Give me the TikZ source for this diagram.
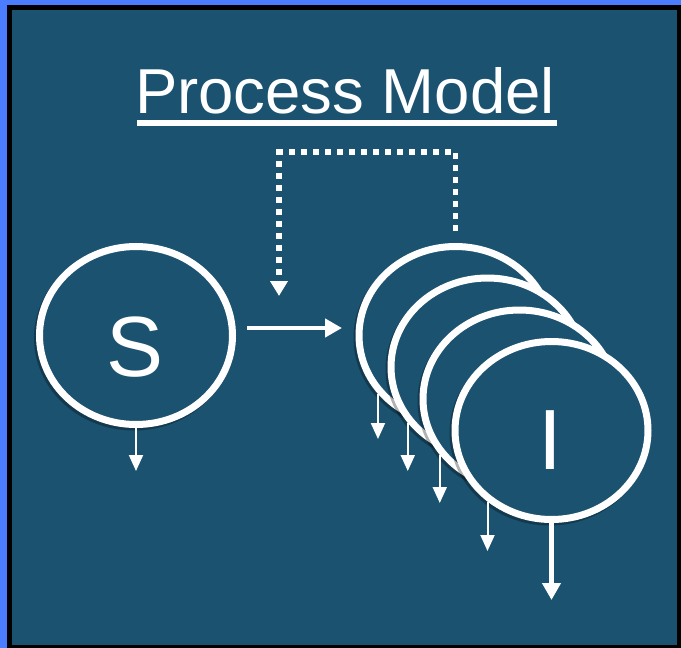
\documentclass[tikz,border=0pt]{standalone}
\usepackage{fontspec}
\setmainfont{Liberation Sans}
\usetikzlibrary{shapes.geometric,arrows.meta,shadows,calc}

\definecolor{frameblue}{RGB}{74,126,255}
\definecolor{panel}{RGB}{26,82,112}

\tikzset{
  state/.style={ellipse, draw=white, line width=7pt, fill=panel,
    minimum width=193pt, minimum height=178pt, inner sep=0pt,
    drop shadow={shadow xshift=-2pt, shadow yshift=-2.5pt,
      opacity=0.3, fill=black, draw=black, line width=7pt}},
  bigletter/.style={text=white, inner sep=0pt, anchor=base,
    font=\fontsize{85.5}{90}\selectfont},
  leak/.style={draw=white, line width=2pt,
    -{Triangle[width=14pt,length=16pt]}},
  bigleak/.style={draw=white, line width=5pt,
    -{Triangle[width=18pt,length=17pt]}},
  flow/.style={draw=white, line width=4.5pt,
    -{Triangle[width=18pt,length=17pt]}},
  feedback/.style={draw=white, line width=5.5pt, dash pattern=on 6pt off 6pt,
    -{Triangle[width=17pt,length=15pt]}},
}

\begin{document}
\begin{tikzpicture}[x=1pt,y=-1pt]
  \useasboundingbox (0,0) rectangle (681,648);
  % outer frame
  \fill[frameblue] (0,0) rectangle (681,648);
  \filldraw[fill=panel, draw=black, line width=5pt] (9.5,7.5) rectangle (679.5,647.5);

  % title
  \node[text=white, inner sep=0pt, anchor=base,
        font=\fontsize{63.5}{70}\selectfont] (title) at (345,113) {Process Model};
  \draw[white, line width=6pt] ($(title.base west)+(2,10)$) -- ($(title.base east)+(2,10)$);

  % susceptible compartment
  \node[state] (S) at (136,335.5) {};
  \node[bigletter] (Slabel) at ($(S.center)+(-1,41)$) {S};

  % stacked infected compartments
  \node[state] (c1) at (455.5,335.5) {};
  \node[state] (c2) at (487.5,367) {};
  \node[state] (c3) at (519.5,399) {};
  \node[state] (c4) at (551.5,430.5) {};
  \node[bigletter] (Ilabel) at ($(c4.center)+(-1,38.5)$) {I};

  % outflow tips
  \coordinate (sOut) at (135,471);
  \coordinate (t1) at (378,439);
  \coordinate (t2) at (408,471);
  \coordinate (t3) at (440,503);
  \coordinate (t4) at (488,551);
  \coordinate (t5) at (551.5,600);

  \draw[leak] (S.south) -- (S.south |- sOut);
  \draw[leak] (c1.217) -- (c1.217 |- t1);
  \draw[leak] (c2.215) -- (c2.215 |- t2);
  \draw[leak] (c3.215) -- (c3.215 |- t3);
  \draw[leak] (c4.228.4) -- (c4.228.4 |- t4);
  \draw[bigleak] (c4.south) -- (t5);

  % infection flow
  \draw[flow] ([xshift=11pt,yshift=7.5pt]S.east) -- ([xshift=-13.5pt,yshift=7.5pt]c1.west);

  % feedback loop
  \coordinate (loopL) at (279,152);
  \coordinate (loopEnd) at (279,296);
  \draw[feedback] ([yshift=12pt]c1.north) |- (loopL) -- (loopEnd);
\end{tikzpicture}
\end{document}
